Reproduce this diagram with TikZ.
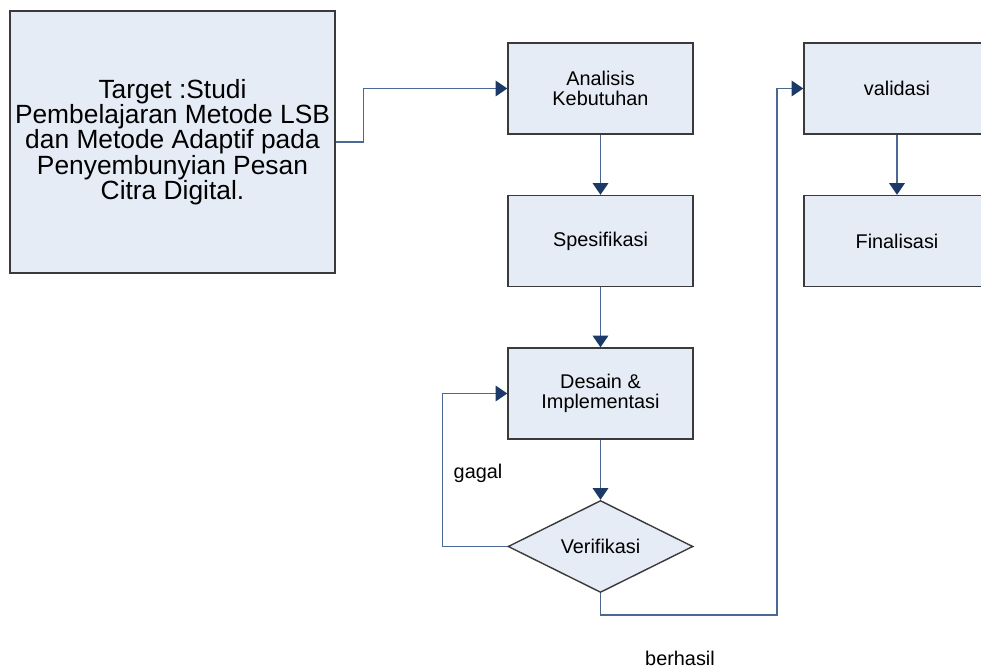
\documentclass[tikz,border=0pt]{standalone}
\usepackage{fontspec}
\setmainfont{Liberation Sans}
\usetikzlibrary{positioning,shapes.geometric,arrows.meta}

\definecolor{boxfill}{HTML}{E6ECF6}
\definecolor{boxline}{HTML}{3A3A3A}
\definecolor{connline}{HTML}{4A6894}
\definecolor{tipnavy}{HTML}{1B3A68}

\begin{document}
\begin{tikzpicture}[x=0.02cm,y=-0.02cm,
    stepbox/.style={draw=boxline,line width=0.8pt,fill=boxfill,minimum width=3.7cm,minimum height=1.82cm,
      align=center,inner sep=0pt,font=\fontsize{11.3}{11.8}\selectfont},
    decision/.style={diamond,draw=boxline,line width=0.8pt,fill=boxfill,aspect=2,minimum width=3.7cm,
      minimum height=1.84cm,inner sep=0pt,font=\fontsize{11.3}{11.8}\selectfont},
    conn/.style={draw=connline,line width=0.9pt,-{Triangle[length=6.6pt,width=8.8pt,color=tipnavy]}},
    label/.style={font=\fontsize{11.3}{11.8}\selectfont}]

    \clip (0,0) rectangle (981,668); %page size

    % left target box
    \node[stepbox,minimum width=6.5cm,minimum height=5.24cm,font=\fontsize{15}{14.4}\selectfont]
      (target) at (172.5,142) {Target :Studi\\Pembelajaran Metode LSB\\dan Metode Adaptif pada\\Penyembunyian Pesan\\Citra Digital.};

    % middle column
    \node[stepbox] (analisis) at (600.5,88.5) {Analisis\\Kebutuhan};
    \node[stepbox] (spesifikasi) at (600.5,241) {Spesifikasi};
    \node[stepbox] (desain) at (600.5,393.5) {Desain \&\\Implementasi};
    \node[decision] (verifikasi) at (600.5,546.5) {Verifikasi};

    % right column
    \node[stepbox,minimum width=3.72cm] (validasi) at (897,88.5) {validasi};
    \node[stepbox,minimum width=3.72cm] (finalisasi) at (897,241) {Finalisasi};

    \node[label] (gagal) at (478,473) {gagal};
    \node[label] (berhasil) at (680,658) {berhasil};

    \coordinate (bend) at (777,615);

    \draw[conn] (target.east) -- ++(28,0) |- (analisis.west);
    \draw[conn] (analisis) -- (spesifikasi);
    \draw[conn] (spesifikasi) -- (desain);
    \draw[conn] (desain) -- (verifikasi);
    \draw[conn] (verifikasi.west) -- ++(-65,0) |- (desain.west); %gagal loop
    \draw[conn] (verifikasi.south) |- (bend) |- (validasi.west);
    \draw[conn] (validasi) -- (finalisasi);
  \end{tikzpicture}
\end{document}
